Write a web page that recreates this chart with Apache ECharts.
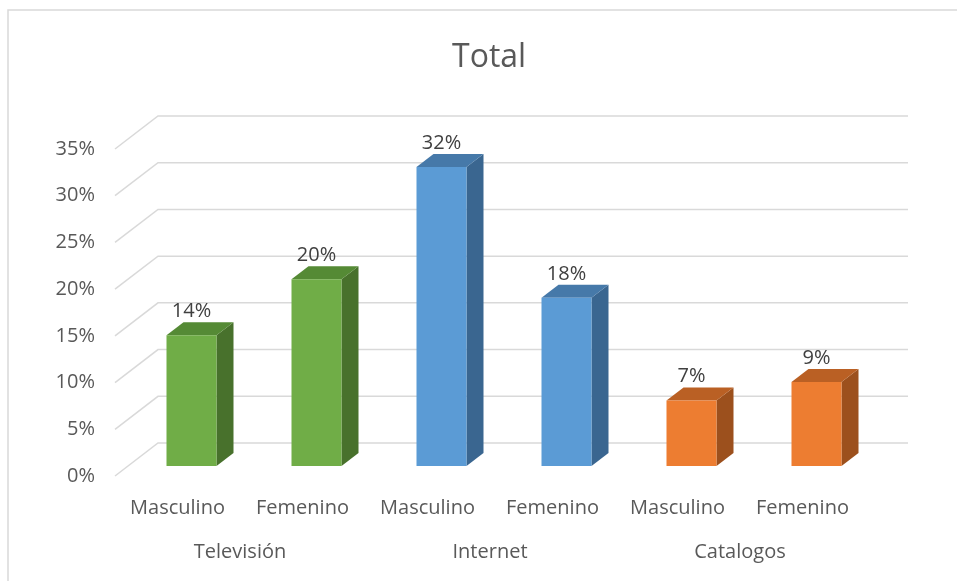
<!DOCTYPE html>
<html>
<head>
<meta charset="utf-8">
<script src="https://cdn.jsdelivr.net/npm/echarts@6/dist/echarts.min.js"></script>
<style>
  html, body { margin: 0; padding: 0; background: #fff; }
  #chart { width: 957px; height: 581px; }
</style>
</head>
<body>
<div id="chart"></div>
<script>
// Media by gender, share of respondents
const categories = ['Masculino', 'Femenino', 'Masculino', 'Femenino', 'Masculino', 'Femenino'];
const groups = ['Televisión', 'Internet', 'Catalogos'];
const values = [0.14, 0.20, 0.32, 0.18, 0.07, 0.09];
const yTicks = [0, 0.05, 0.10, 0.15, 0.20, 0.25, 0.30, 0.35];

// front / top / side shades for each group
const palette = [
  { front: '#70AD47', top: '#558A35', side: '#48712C' },
  { front: '#5B9BD5', top: '#4679A9', side: '#3A6690' },
  { front: '#ED7D31', top: '#BA6024', side: '#9C501D' }
];

// oblique depth of the chart walls and of each column
const WALL_DX = 43, WALL_DY = -33;
const BAR_DX = 14, BAR_DY = -10;
const BAR_DEPTH_X = 17, BAR_DEPTH_Y = -13;
const BAR_HALF = 25;

const font = '"Open Sans", "Liberation Sans", sans-serif';
const pct = v => Math.round(v * 100) + '%';

const chart = echarts.init(document.getElementById('chart'), null, { renderer: 'canvas' });

chart.setOption({
  backgroundColor: '#ffffff',
  animation: false,
  textStyle: { fontFamily: font },
  title: {
    text: 'Total',
    left: 447,
    top: 37,
    textStyle: { fontFamily: font, fontSize: 32, fontWeight: 'normal', color: '#595959' }
  },
  graphic: [{
    type: 'rect',
    shape: { x: 8, y: 10, width: 980, height: 620 },
    style: { fill: 'none', stroke: '#D9D9D9', lineWidth: 1.5 },
    silent: true
  }],
  grid: { left: 115, right: 92, top: 149, bottom: 105, containLabel: false },
  xAxis: [{
    type: 'category',
    data: categories,
    axisLine: { show: false },
    axisTick: { show: false },
    axisLabel: { margin: 22, fontSize: 20, color: '#595959', fontFamily: font, interval: 0 },
    splitLine: { show: false }
  }, {
    type: 'category',
    data: groups,
    position: 'bottom',
    offset: 45,
    axisLine: { show: false },
    axisTick: { show: false },
    axisLabel: { margin: 21, fontSize: 20, color: '#595959', fontFamily: font, interval: 0 },
    splitLine: { show: false }
  }],
  yAxis: {
    type: 'value',
    min: 0,
    max: 0.35,
    interval: 0.05,
    axisLine: { show: false },
    axisTick: { show: false },
    splitLine: { show: false },
    axisLabel: { margin: 20, fontSize: 20, color: '#595959', fontFamily: font, formatter: pct }
  },
  series: [{
    // side-wall diagonals and back-wall gridlines
    type: 'custom',
    silent: true,
    clip: false,
    z: 1,
    data: yTicks.map(v => [0, v]),
    renderItem: function (params, api) {
      const cs = params.coordSys;
      const y = api.coord([0, api.value(1)])[1];
      const x0 = cs.x;
      return {
        type: 'polyline',
        shape: { points: [[x0, y], [x0 + WALL_DX, y + WALL_DY], [x0 + cs.width + WALL_DX, y + WALL_DY]] },
        style: { stroke: '#D9D9D9', lineWidth: 1.5, fill: 'none' }
      };
    }
  }, {
    // oblique 3D columns with value labels
    type: 'custom',
    clip: false,
    z: 2,
    data: values.map((v, i) => [i, v]),
    renderItem: function (params, api) {
      const i = api.value(0);
      const v = api.value(1);
      const base = api.coord([i, 0]);
      const top = api.coord([i, v]);
      const c = palette[Math.floor(i / 2)];
      const cx = base[0] + BAR_DX;
      const xl = cx - BAR_HALF, xr = cx + BAR_HALF;
      const yb = base[1] + BAR_DY, yt = top[1] + BAR_DY;
      const dx = BAR_DEPTH_X, dy = BAR_DEPTH_Y;
      return {
        type: 'group',
        children: [{
          type: 'polygon',
          shape: { points: [[xr, yb], [xr + dx, yb + dy], [xr + dx, yt + dy], [xr, yt]] },
          style: { fill: c.side }
        }, {
          type: 'polygon',
          shape: { points: [[xl, yt], [xr, yt], [xr + dx, yt + dy], [xl + dx, yt + dy]] },
          style: { fill: c.top }
        }, {
          type: 'rect',
          shape: { x: xl, y: yt, width: xr - xl, height: yb - yt },
          style: { fill: c.front }
        }, {
          type: 'text',
          style: {
            text: pct(v),
            x: cx,
            y: yt + dy - 1,
            align: 'center',
            verticalAlign: 'bottom',
            fontSize: 20,
            fontFamily: font,
            fill: '#404040'
          }
        }]
      };
    }
  }]
});
</script>
</body>
</html>
